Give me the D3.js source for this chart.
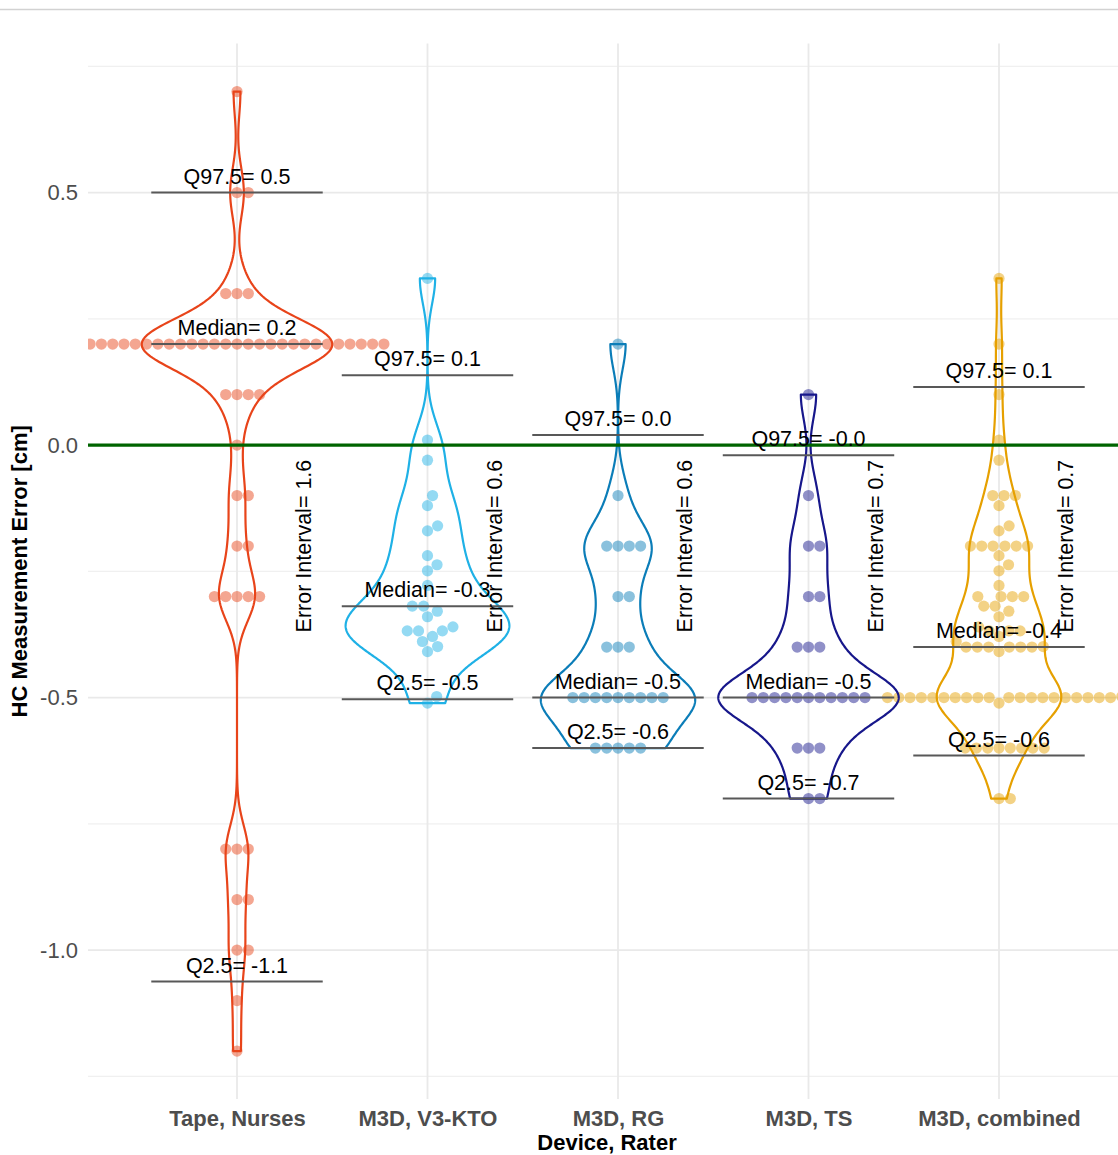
<!DOCTYPE html>
<html>
<head>
<meta charset="utf-8">
<script src="https://cdn.jsdelivr.net/npm/d3@7"></script>
<style>
  body { margin: 0; background: #ffffff; }
  svg { display: block; }
  text { font-family: "Liberation Sans", Arial, Helvetica, sans-serif; }
</style>
</head>
<body>
<svg id="chart" width="1118" height="1155"></svg>
<script>
// ---- data: head-circumference measurement errors (cm) per device / rater ----
const categories = ["Tape, Nurses", "M3D, V3-KTO", "M3D, RG", "M3D, TS", "M3D, combined"];

const tapeNurses = [
  0.7,
  0.5, 0.5,
  0.3, 0.3, 0.3,
  0.2, 0.2, 0.2, 0.2, 0.2, 0.2, 0.2, 0.2, 0.2, 0.2, 0.2, 0.2, 0.2, 0.2,
  0.2, 0.2, 0.2, 0.2, 0.2, 0.2, 0.2, 0.2, 0.2, 0.2, 0.2, 0.2, 0.2,
  0.1, 0.1, 0.1, 0.1,
  0.0,
  -0.1, -0.1,
  -0.2, -0.2,
  -0.3, -0.3, -0.3, -0.3, -0.3,
  -0.8, -0.8, -0.8,
  -0.9, -0.9,
  -1.0, -1.0,
  -1.1,
  -1.2
];

const m3dV3kto = [
  0.33, 0.01, -0.03, -0.10, -0.12, -0.16, -0.17, -0.219, -0.237, -0.249,
  -0.278, -0.319, -0.329, -0.319, -0.34, -0.368, -0.368, -0.36, -0.368,
  -0.389, -0.379, -0.399, -0.409, -0.498, -0.511
];

const m3dRG = [
  0.2,
  -0.1,
  -0.2, -0.2, -0.2, -0.2,
  -0.3, -0.3,
  -0.4, -0.4, -0.4,
  -0.5, -0.5, -0.5, -0.5, -0.5, -0.5, -0.5, -0.5, -0.5,
  -0.6, -0.6, -0.6, -0.6, -0.6
];

const m3dTS = [
  0.1,
  -0.1,
  -0.2, -0.2,
  -0.3, -0.3,
  -0.4, -0.4, -0.4,
  -0.5, -0.5, -0.5, -0.5, -0.5, -0.5, -0.5, -0.5, -0.5, -0.5, -0.5,
  -0.6, -0.6, -0.6,
  -0.7, -0.7
];

// all three M3D raters pooled
const m3dCombined = m3dV3kto.concat(m3dRG, m3dTS);

const seriesValues = [tapeNurses, m3dV3kto, m3dRG, m3dTS, m3dCombined];

const yTicks = [-1.0, -0.5, 0.0, 0.5];
const yMinorTicks = [-1.25, -0.75, -0.25, 0.25, 0.75];
const referenceValue = 0.0;
const intervalLabelValue = -0.2;

// ---- style ----
const lineColors = ["#E8441A", "#1FB1E6", "#0B7DB8", "#17178B", "#E6A000"];
const bandwidth = 0.05;      // gaussian KDE bandwidth (cm)
const violinWidth = 1.0;     // fraction of category spacing at peak density
const dotDiameter = 11.3;
const fmt = v => v.toFixed(1);

// ---- layout ----
const W = 1118, H = 1155;
const panel = { left: 88, right: 1126 };
const svg = d3.select("#chart");

const allValues = seriesValues.flat();
const ext = d3.extent(allValues);
const pad = 0.05 * (ext[1] - ext[0]);
const y = d3.scaleLinear().domain([ext[0] - pad, ext[1] + pad]).range([1099, 43.6]);
const x = d3.scalePoint().domain(categories).range([237, 999]);
const step = x.step();
panel.top = y.range()[1];
panel.bottom = y.range()[0];

// thin rule across the top of the figure
svg.append("line")
  .attr("x1", 0).attr("x2", W).attr("y1", 9.5).attr("y2", 9.5)
  .attr("stroke", "#d2d2d2").attr("stroke-width", 1.5);

// ---- grid ----
const grid = svg.append("g");
grid.selectAll("line.minor").data(yMinorTicks).join("line")
  .attr("x1", panel.left).attr("x2", panel.right)
  .attr("y1", d => y(d)).attr("y2", d => y(d))
  .attr("stroke", "#f0f0f0").attr("stroke-width", 1.3);
grid.selectAll("line.major").data(yTicks).join("line")
  .attr("x1", panel.left).attr("x2", panel.right)
  .attr("y1", d => y(d)).attr("y2", d => y(d))
  .attr("stroke", "#e9e9e9").attr("stroke-width", 1.8);
grid.selectAll("line.vert").data(categories).join("line")
  .attr("x1", d => x(d)).attr("x2", d => x(d))
  .attr("y1", panel.top).attr("y2", panel.bottom)
  .attr("stroke", "#e9e9e9").attr("stroke-width", 1.8);

// clip marks to the panel
svg.append("defs").append("clipPath").attr("id", "panelClip")
  .append("rect")
  .attr("x", panel.left).attr("y", panel.top)
  .attr("width", panel.right - panel.left).attr("height", panel.bottom - panel.top);
const plot = svg.append("g").attr("clip-path", "url(#panelClip)");

// ---- beeswarm layout (ascending priority, closest-to-centre placement) ----
function swarm(values, cx) {
  const d = dotDiameter;
  const order = d3.range(values.length).sort((a, b) => values[a] - values[b] || a - b);
  const placed = [];
  const out = [];
  for (const i of order) {
    const py = y(values[i]);
    const near = placed.filter(p => Math.abs(p.py - py) < d);
    let best = 0;
    if (near.length) {
      const plus = [], minus = [];
      near.forEach(p => {
        const o = Math.sqrt(Math.max(0, d * d - (p.py - py) ** 2));
        plus.push(p.off + o);
        minus.push(p.off - o);
      });
      const cands = [0].concat(plus, minus);
      let bestAbs = Infinity;
      for (const c of cands) {
        const ok = near.every(p => (c - p.off) ** 2 + (py - p.py) ** 2 >= 0.999 * d * d);
        if (ok && Math.abs(c) < bestAbs - 1e-9) { bestAbs = Math.abs(c); best = c; }
      }
    }
    placed.push({ py, off: best });
    out.push({ cx: cx + best, cy: py });
  }
  return out;
}

// ---- kernel density for the violins ----
function kde(values) {
  const [lo, hi] = d3.extent(values);
  const n = 512;
  const k = u => Math.exp(-0.5 * u * u) / Math.sqrt(2 * Math.PI);
  return d3.range(n).map(i => {
    const t = lo + (hi - lo) * i / (n - 1);
    return { t, d: d3.mean(values, v => k((t - v) / bandwidth)) / bandwidth };
  });
}
const densities = seriesValues.map(kde);
const maxDensity = d3.max(densities, g => d3.max(g, p => p.d));

// dots
seriesValues.forEach((vals, gi) => {
  const cx = x(categories[gi]);
  plot.append("g").selectAll("circle").data(swarm(vals, cx)).join("circle")
    .attr("cx", d => d.cx).attr("cy", d => d.cy).attr("r", 5.6)
    .attr("fill", lineColors[gi]).attr("fill-opacity", 0.48);
});

// violins
const line = d3.line();
densities.forEach((dens, gi) => {
  const cx = x(categories[gi]);
  const hw = p => p.d / maxDensity * violinWidth * step / 2;
  const right = dens.map(p => [cx + hw(p), y(p.t)]);
  const left = dens.slice().reverse().map(p => [cx - hw(p), y(p.t)]);
  plot.append("path")
    .attr("d", line(right.concat(left)) + "Z")
    .attr("fill", "none")
    .attr("stroke", lineColors[gi])
    .attr("stroke-width", 2.2)
    .attr("stroke-linejoin", "round");
});

// quantile bars
const stats = seriesValues.map(vals => {
  const s = vals.slice().sort(d3.ascending);
  return {
    q975: d3.quantileSorted(s, 0.975),
    med: d3.quantileSorted(s, 0.5),
    q025: d3.quantileSorted(s, 0.025)
  };
});
const bars = [];
stats.forEach((st, gi) => {
  const cat = categories[gi];
  bars.push({ cat, v: st.q975, label: "Q97.5= " + fmt(st.q975) });
  bars.push({ cat, v: st.med, label: "Median= " + fmt(st.med) });
  bars.push({ cat, v: st.q025, label: "Q2.5= " + fmt(st.q025) });
});
plot.append("g").selectAll("line").data(bars).join("line")
  .attr("x1", d => x(d.cat) - 0.45 * step).attr("x2", d => x(d.cat) + 0.45 * step)
  .attr("y1", d => y(d.v)).attr("y2", d => y(d.v))
  .attr("stroke", "#585858").attr("stroke-width", 2);

// zero-error reference
plot.append("line")
  .attr("x1", panel.left).attr("x2", panel.right)
  .attr("y1", y(referenceValue)).attr("y2", y(referenceValue))
  .attr("stroke", "#006400").attr("stroke-width", 3.2);

// bar labels
svg.append("g").selectAll("text").data(bars).join("text")
  .attr("x", d => x(d.cat)).attr("y", d => y(d.v) - 9)
  .attr("text-anchor", "middle")
  .attr("font-size", 21.5).attr("fill", "#000")
  .text(d => d.label);

// error interval labels
svg.append("g").selectAll("text").data(stats).join("text")
  .attr("transform", (d, i) => `translate(${x(categories[i]) + 0.35 * step},${y(intervalLabelValue)}) rotate(-90)`)
  .attr("text-anchor", "middle")
  .attr("dy", "0.35em")
  .attr("font-size", 21.5).attr("fill", "#000")
  .text(d => "Error Interval= " + fmt(d.q975 - d.q025));

// ---- axes ----
const yAxis = svg.append("g").attr("transform", `translate(${panel.left - 10},0)`)
  .call(d3.axisLeft(y).tickValues(yTicks).tickFormat(fmt).tickSize(0).tickPadding(0));
yAxis.select(".domain").remove();
yAxis.selectAll("text")
  .attr("font-size", 22).attr("fill", "#4d4d4d")
  .attr("font-family", "'Liberation Sans', Arial, sans-serif");

const xAxis = svg.append("g").attr("transform", `translate(0,${panel.bottom})`)
  .call(d3.axisBottom(x).tickSize(0).tickPadding(0));
xAxis.select(".domain").remove();
xAxis.selectAll("text")
  .attr("y", 27).attr("dy", 0)
  .attr("font-size", 22).attr("font-weight", "bold").attr("fill", "#4d4d4d")
  .attr("font-family", "'Liberation Sans', Arial, sans-serif");

// axis titles
svg.append("text")
  .attr("x", 607).attr("y", 1150)
  .attr("text-anchor", "middle")
  .attr("font-size", 22).attr("font-weight", "bold").attr("fill", "#000")
  .text("Device, Rater");

svg.append("text")
  .attr("transform", `translate(27,${(panel.top + panel.bottom) / 2}) rotate(-90)`)
  .attr("text-anchor", "middle")
  .attr("font-size", 22).attr("font-weight", "bold").attr("fill", "#000")
  .text("HC Measurement Error [cm]");
</script>
</body>
</html>
